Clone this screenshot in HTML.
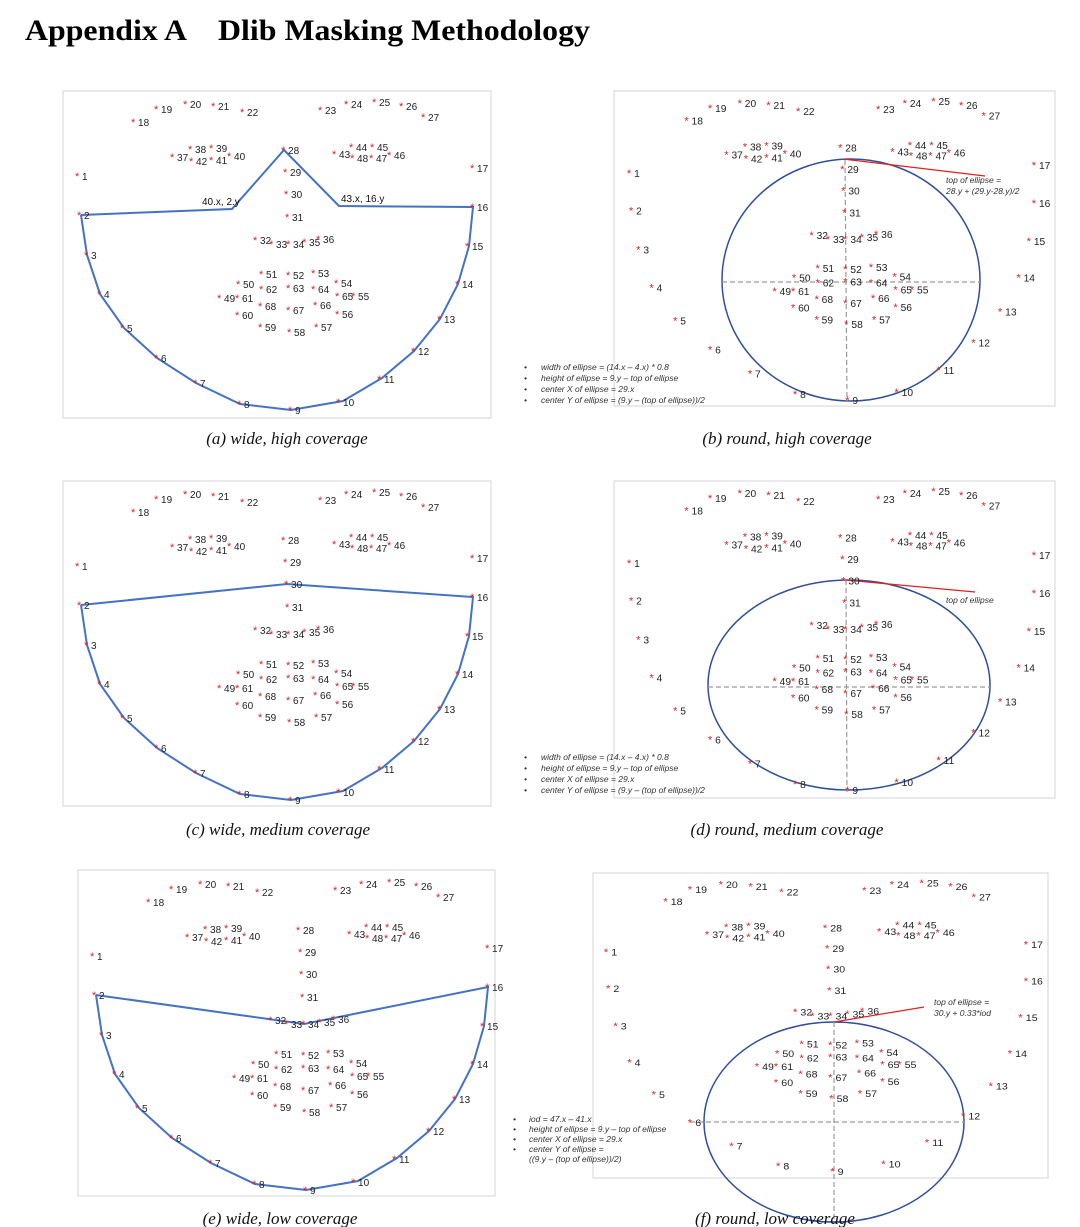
<!DOCTYPE html>
<html><head><meta charset="utf-8"><style>
body{margin:0;background:#fff;}
svg{display:block;}
.p text{font-family:"Liberation Sans",sans-serif;font-size:10px;fill:#222;}
.p tspan{fill:#e02020;font-size:11px;}
.cap{font-family:"Liberation Serif",serif;font-style:italic;font-size:17px;fill:#111;text-anchor:middle;}
.note{font-family:"Liberation Sans",sans-serif;font-style:italic;font-size:8.5px;fill:#333;}
.ann{font-family:"Liberation Sans",sans-serif;font-size:10px;fill:#111;}
.ttl{font-family:"Liberation Serif",serif;font-weight:bold;font-size:30px;fill:#000;}
</style></head><body>
<svg width="1080" height="1227" viewBox="0 0 1080 1227" xmlns="http://www.w3.org/2000/svg">
<text class="ttl" x="25" y="40" textLength="162" lengthAdjust="spacingAndGlyphs">Appendix A</text>
<text class="ttl" x="218" y="40" textLength="372" lengthAdjust="spacingAndGlyphs">Dlib Masking Methodology</text>

<!-- frames -->
<g fill="none" stroke="#d4d4d4" stroke-width="1">
<rect x="63" y="91" width="428" height="327"/>
<rect x="614" y="91" width="441" height="315"/>
<rect x="63" y="481" width="428" height="325"/>
<rect x="614" y="481" width="441" height="317"/>
<rect x="78" y="870" width="417" height="326"/>
<rect x="593" y="873" width="455" height="305"/>
</g>

<polyline fill="none" stroke="#4472c4" stroke-width="2" points="81,215 232,209 284,150 339,206 473,207 469,246 458,284 440,319 414,351 382,378 343,401 291,410 240,404 196,383 157,358 124,328 100,294 87,255 81,215"/>
<text class="ann" x="202" y="205">40.x, 2.y</text>
<text class="ann" x="341" y="202">43.x, 16.y</text>
<polyline fill="none" stroke="#4472c4" stroke-width="2" transform="translate(0,390)" points="81,215 287,194 473,207 469,246 458,284 440,319 414,351 382,378 343,401 291,410 240,404 196,383 157,358 124,328 100,294 87,255 81,215"/>
<polyline fill="none" stroke="#4472c4" stroke-width="2" transform="translate(15,780)" points="81,215 289,244 473,207 469,246 458,284 440,319 414,351 382,378 343,401 291,410 240,404 196,383 157,358 124,328 100,294 87,255 81,215"/>

<ellipse cx="851" cy="280" rx="129" ry="121" fill="none" stroke="#2f4f9a" stroke-width="1.5"/>
<g stroke="#999" stroke-dasharray="5,3" stroke-width="1.2"><line x1="722" y1="282" x2="980" y2="282"/><line x1="845" y1="160" x2="847" y2="402"/></g>
<line x1="843" y1="159" x2="985" y2="176" stroke="#e02020" stroke-width="1.2"/>
<text class="note" x="946" y="183">top of ellipse =</text>
<text class="note" x="946" y="194">28.y + (29.y-28.y)/2</text>
<g class="note"><text x="524" y="370">•</text><text x="541" y="370">width of ellipse = (14.x – 4.x) * 0.8</text>
<text x="524" y="381">•</text><text x="541" y="381">height of ellipse = 9.y – top of ellipse</text>
<text x="524" y="392">•</text><text x="541" y="392">center X of ellipse = 29.x</text>
<text x="524" y="403">•</text><text x="541" y="403">center Y of ellipse = (9.y – (top of ellipse))/2</text></g>

<ellipse cx="849" cy="685" rx="141" ry="105" fill="none" stroke="#2f4f9a" stroke-width="1.5"/>
<g stroke="#999" stroke-dasharray="5,3" stroke-width="1.2"><line x1="708" y1="687" x2="990" y2="687"/><line x1="846" y1="580" x2="847" y2="792"/></g>
<line x1="846" y1="580" x2="975" y2="592" stroke="#e02020" stroke-width="1.2"/>
<text class="note" x="946" y="603">top of ellipse</text>
<g class="note"><text x="524" y="760">•</text><text x="541" y="760">width of ellipse = (14.x – 4.x) * 0.8</text>
<text x="524" y="771">•</text><text x="541" y="771">height of ellipse = 9.y – top of ellipse</text>
<text x="524" y="782">•</text><text x="541" y="782">center X of ellipse = 29.x</text>
<text x="524" y="793">•</text><text x="541" y="793">center Y of ellipse = (9.y – (top of ellipse))/2</text></g>

<ellipse cx="834" cy="1122" rx="130" ry="100" fill="none" stroke="#2f4f9a" stroke-width="1.5"/>
<g stroke="#999" stroke-dasharray="5,3" stroke-width="1.2"><line x1="690" y1="1122" x2="965" y2="1122"/><line x1="834" y1="1022" x2="834" y2="1222"/></g>
<line x1="834" y1="1022" x2="924" y2="1007" stroke="#e02020" stroke-width="1.2"/>
<text class="note" x="934" y="1005">top of ellipse =</text>
<text class="note" x="934" y="1016">30.y + 0.33*iod</text>
<g class="note"><text x="513" y="1122">•</text><text x="529" y="1122">iod = 47.x – 41.x</text>
<text x="513" y="1132">•</text><text x="529" y="1132">height of ellipse = 9.y – top of ellipse</text>
<text x="513" y="1142">•</text><text x="529" y="1142">center X of ellipse = 29.x</text>
<text x="513" y="1152">•</text><text x="529" y="1152">center Y of ellipse =</text>
<text x="529" y="1162">((9.y – (top of ellipse))/2)</text></g>

<g class="p" transform="translate(-3,4)">
<text x="78" y="176"><tspan>*</tspan> 1</text><text x="80" y="215"><tspan>*</tspan> 2</text><text x="87" y="255"><tspan>*</tspan> 3</text><text x="100" y="294"><tspan>*</tspan> 4</text><text x="123" y="328"><tspan>*</tspan> 5</text><text x="157" y="358"><tspan>*</tspan> 6</text><text x="196" y="383"><tspan>*</tspan> 7</text><text x="240" y="404"><tspan>*</tspan> 8</text><text x="291" y="410"><tspan>*</tspan> 9</text><text x="339" y="402"><tspan>*</tspan> 10</text><text x="380" y="379"><tspan>*</tspan> 11</text><text x="414" y="351"><tspan>*</tspan> 12</text><text x="440" y="319"><tspan>*</tspan> 13</text><text x="458" y="284"><tspan>*</tspan> 14</text><text x="468" y="246"><tspan>*</tspan> 15</text><text x="473" y="207"><tspan>*</tspan> 16</text><text x="473" y="168"><tspan>*</tspan> 17</text>
<text x="134" y="122"><tspan>*</tspan> 18</text><text x="157" y="109"><tspan>*</tspan> 19</text><text x="186" y="104"><tspan>*</tspan> 20</text><text x="214" y="106"><tspan>*</tspan> 21</text><text x="243" y="112"><tspan>*</tspan> 22</text><text x="321" y="110"><tspan>*</tspan> 23</text><text x="347" y="104"><tspan>*</tspan> 24</text><text x="375" y="102"><tspan>*</tspan> 25</text><text x="402" y="106"><tspan>*</tspan> 26</text><text x="424" y="117"><tspan>*</tspan> 27</text>
<text x="284" y="150"><tspan>*</tspan> 28</text><text x="286" y="172"><tspan>*</tspan> 29</text><text x="287" y="194"><tspan>*</tspan> 30</text><text x="288" y="217"><tspan>*</tspan> 31</text><text x="256" y="240"><tspan>*</tspan> 32</text><text x="272" y="244"><tspan>*</tspan> 33</text><text x="289" y="244"><tspan>*</tspan> 34</text><text x="305" y="242"><tspan>*</tspan> 35</text><text x="319" y="239"><tspan>*</tspan> 36</text>
<text x="173" y="157"><tspan>*</tspan> 37</text><text x="191" y="149"><tspan>*</tspan> 38</text><text x="212" y="148"><tspan>*</tspan> 39</text><text x="230" y="156"><tspan>*</tspan> 40</text><text x="212" y="160"><tspan>*</tspan> 41</text><text x="192" y="161"><tspan>*</tspan> 42</text><text x="335" y="154"><tspan>*</tspan> 43</text><text x="352" y="147"><tspan>*</tspan> 44</text><text x="373" y="147"><tspan>*</tspan> 45</text><text x="390" y="155"><tspan>*</tspan> 46</text><text x="372" y="158"><tspan>*</tspan> 47</text><text x="353" y="158"><tspan>*</tspan> 48</text>
<text x="220" y="298"><tspan>*</tspan> 49</text><text x="239" y="284"><tspan>*</tspan> 50</text><text x="262" y="274"><tspan>*</tspan> 51</text><text x="289" y="275"><tspan>*</tspan> 52</text><text x="314" y="273"><tspan>*</tspan> 53</text><text x="337" y="283"><tspan>*</tspan> 54</text><text x="354" y="296"><tspan>*</tspan> 55</text><text x="338" y="314"><tspan>*</tspan> 56</text><text x="317" y="327"><tspan>*</tspan> 57</text><text x="290" y="332"><tspan>*</tspan> 58</text><text x="261" y="327"><tspan>*</tspan> 59</text><text x="238" y="315"><tspan>*</tspan> 60</text><text x="238" y="298"><tspan>*</tspan> 61</text><text x="262" y="289"><tspan>*</tspan> 62</text><text x="289" y="288"><tspan>*</tspan> 63</text><text x="314" y="289"><tspan>*</tspan> 64</text><text x="338" y="296"><tspan>*</tspan> 65</text><text x="316" y="305"><tspan>*</tspan> 66</text><text x="289" y="310"><tspan>*</tspan> 67</text><text x="261" y="306"><tspan>*</tspan> 68</text>
</g>

<g class="p" transform="matrix(1.025,0,0,0.97,550,2.3) translate(-3,4)">
<text x="78" y="176"><tspan>*</tspan> 1</text><text x="80" y="215"><tspan>*</tspan> 2</text><text x="87" y="255"><tspan>*</tspan> 3</text><text x="100" y="294"><tspan>*</tspan> 4</text><text x="123" y="328"><tspan>*</tspan> 5</text><text x="157" y="358"><tspan>*</tspan> 6</text><text x="196" y="383"><tspan>*</tspan> 7</text><text x="240" y="404"><tspan>*</tspan> 8</text><text x="291" y="410"><tspan>*</tspan> 9</text><text x="339" y="402"><tspan>*</tspan> 10</text><text x="380" y="379"><tspan>*</tspan> 11</text><text x="414" y="351"><tspan>*</tspan> 12</text><text x="440" y="319"><tspan>*</tspan> 13</text><text x="458" y="284"><tspan>*</tspan> 14</text><text x="468" y="246"><tspan>*</tspan> 15</text><text x="473" y="207"><tspan>*</tspan> 16</text><text x="473" y="168"><tspan>*</tspan> 17</text>
<text x="134" y="122"><tspan>*</tspan> 18</text><text x="157" y="109"><tspan>*</tspan> 19</text><text x="186" y="104"><tspan>*</tspan> 20</text><text x="214" y="106"><tspan>*</tspan> 21</text><text x="243" y="112"><tspan>*</tspan> 22</text><text x="321" y="110"><tspan>*</tspan> 23</text><text x="347" y="104"><tspan>*</tspan> 24</text><text x="375" y="102"><tspan>*</tspan> 25</text><text x="402" y="106"><tspan>*</tspan> 26</text><text x="424" y="117"><tspan>*</tspan> 27</text>
<text x="284" y="150"><tspan>*</tspan> 28</text><text x="286" y="172"><tspan>*</tspan> 29</text><text x="287" y="194"><tspan>*</tspan> 30</text><text x="288" y="217"><tspan>*</tspan> 31</text><text x="256" y="240"><tspan>*</tspan> 32</text><text x="272" y="244"><tspan>*</tspan> 33</text><text x="289" y="244"><tspan>*</tspan> 34</text><text x="305" y="242"><tspan>*</tspan> 35</text><text x="319" y="239"><tspan>*</tspan> 36</text>
<text x="173" y="157"><tspan>*</tspan> 37</text><text x="191" y="149"><tspan>*</tspan> 38</text><text x="212" y="148"><tspan>*</tspan> 39</text><text x="230" y="156"><tspan>*</tspan> 40</text><text x="212" y="160"><tspan>*</tspan> 41</text><text x="192" y="161"><tspan>*</tspan> 42</text><text x="335" y="154"><tspan>*</tspan> 43</text><text x="352" y="147"><tspan>*</tspan> 44</text><text x="373" y="147"><tspan>*</tspan> 45</text><text x="390" y="155"><tspan>*</tspan> 46</text><text x="372" y="158"><tspan>*</tspan> 47</text><text x="353" y="158"><tspan>*</tspan> 48</text>
<text x="220" y="298"><tspan>*</tspan> 49</text><text x="239" y="284"><tspan>*</tspan> 50</text><text x="262" y="274"><tspan>*</tspan> 51</text><text x="289" y="275"><tspan>*</tspan> 52</text><text x="314" y="273"><tspan>*</tspan> 53</text><text x="337" y="283"><tspan>*</tspan> 54</text><text x="354" y="296"><tspan>*</tspan> 55</text><text x="338" y="314"><tspan>*</tspan> 56</text><text x="317" y="327"><tspan>*</tspan> 57</text><text x="290" y="332"><tspan>*</tspan> 58</text><text x="261" y="327"><tspan>*</tspan> 59</text><text x="238" y="315"><tspan>*</tspan> 60</text><text x="238" y="298"><tspan>*</tspan> 61</text><text x="262" y="289"><tspan>*</tspan> 62</text><text x="289" y="288"><tspan>*</tspan> 63</text><text x="314" y="289"><tspan>*</tspan> 64</text><text x="338" y="296"><tspan>*</tspan> 65</text><text x="316" y="305"><tspan>*</tspan> 66</text><text x="289" y="310"><tspan>*</tspan> 67</text><text x="261" y="306"><tspan>*</tspan> 68</text>
</g>

<g class="p" transform="translate(-3,394)">
<text x="78" y="176"><tspan>*</tspan> 1</text><text x="80" y="215"><tspan>*</tspan> 2</text><text x="87" y="255"><tspan>*</tspan> 3</text><text x="100" y="294"><tspan>*</tspan> 4</text><text x="123" y="328"><tspan>*</tspan> 5</text><text x="157" y="358"><tspan>*</tspan> 6</text><text x="196" y="383"><tspan>*</tspan> 7</text><text x="240" y="404"><tspan>*</tspan> 8</text><text x="291" y="410"><tspan>*</tspan> 9</text><text x="339" y="402"><tspan>*</tspan> 10</text><text x="380" y="379"><tspan>*</tspan> 11</text><text x="414" y="351"><tspan>*</tspan> 12</text><text x="440" y="319"><tspan>*</tspan> 13</text><text x="458" y="284"><tspan>*</tspan> 14</text><text x="468" y="246"><tspan>*</tspan> 15</text><text x="473" y="207"><tspan>*</tspan> 16</text><text x="473" y="168"><tspan>*</tspan> 17</text>
<text x="134" y="122"><tspan>*</tspan> 18</text><text x="157" y="109"><tspan>*</tspan> 19</text><text x="186" y="104"><tspan>*</tspan> 20</text><text x="214" y="106"><tspan>*</tspan> 21</text><text x="243" y="112"><tspan>*</tspan> 22</text><text x="321" y="110"><tspan>*</tspan> 23</text><text x="347" y="104"><tspan>*</tspan> 24</text><text x="375" y="102"><tspan>*</tspan> 25</text><text x="402" y="106"><tspan>*</tspan> 26</text><text x="424" y="117"><tspan>*</tspan> 27</text>
<text x="284" y="150"><tspan>*</tspan> 28</text><text x="286" y="172"><tspan>*</tspan> 29</text><text x="287" y="194"><tspan>*</tspan> 30</text><text x="288" y="217"><tspan>*</tspan> 31</text><text x="256" y="240"><tspan>*</tspan> 32</text><text x="272" y="244"><tspan>*</tspan> 33</text><text x="289" y="244"><tspan>*</tspan> 34</text><text x="305" y="242"><tspan>*</tspan> 35</text><text x="319" y="239"><tspan>*</tspan> 36</text>
<text x="173" y="157"><tspan>*</tspan> 37</text><text x="191" y="149"><tspan>*</tspan> 38</text><text x="212" y="148"><tspan>*</tspan> 39</text><text x="230" y="156"><tspan>*</tspan> 40</text><text x="212" y="160"><tspan>*</tspan> 41</text><text x="192" y="161"><tspan>*</tspan> 42</text><text x="335" y="154"><tspan>*</tspan> 43</text><text x="352" y="147"><tspan>*</tspan> 44</text><text x="373" y="147"><tspan>*</tspan> 45</text><text x="390" y="155"><tspan>*</tspan> 46</text><text x="372" y="158"><tspan>*</tspan> 47</text><text x="353" y="158"><tspan>*</tspan> 48</text>
<text x="220" y="298"><tspan>*</tspan> 49</text><text x="239" y="284"><tspan>*</tspan> 50</text><text x="262" y="274"><tspan>*</tspan> 51</text><text x="289" y="275"><tspan>*</tspan> 52</text><text x="314" y="273"><tspan>*</tspan> 53</text><text x="337" y="283"><tspan>*</tspan> 54</text><text x="354" y="296"><tspan>*</tspan> 55</text><text x="338" y="314"><tspan>*</tspan> 56</text><text x="317" y="327"><tspan>*</tspan> 57</text><text x="290" y="332"><tspan>*</tspan> 58</text><text x="261" y="327"><tspan>*</tspan> 59</text><text x="238" y="315"><tspan>*</tspan> 60</text><text x="238" y="298"><tspan>*</tspan> 61</text><text x="262" y="289"><tspan>*</tspan> 62</text><text x="289" y="288"><tspan>*</tspan> 63</text><text x="314" y="289"><tspan>*</tspan> 64</text><text x="338" y="296"><tspan>*</tspan> 65</text><text x="316" y="305"><tspan>*</tspan> 66</text><text x="289" y="310"><tspan>*</tspan> 67</text><text x="261" y="306"><tspan>*</tspan> 68</text>
</g>

<g class="p" transform="matrix(1.025,0,0,0.97,550,392.3) translate(-3,4)">
<text x="78" y="176"><tspan>*</tspan> 1</text><text x="80" y="215"><tspan>*</tspan> 2</text><text x="87" y="255"><tspan>*</tspan> 3</text><text x="100" y="294"><tspan>*</tspan> 4</text><text x="123" y="328"><tspan>*</tspan> 5</text><text x="157" y="358"><tspan>*</tspan> 6</text><text x="196" y="383"><tspan>*</tspan> 7</text><text x="240" y="404"><tspan>*</tspan> 8</text><text x="291" y="410"><tspan>*</tspan> 9</text><text x="339" y="402"><tspan>*</tspan> 10</text><text x="380" y="379"><tspan>*</tspan> 11</text><text x="414" y="351"><tspan>*</tspan> 12</text><text x="440" y="319"><tspan>*</tspan> 13</text><text x="458" y="284"><tspan>*</tspan> 14</text><text x="468" y="246"><tspan>*</tspan> 15</text><text x="473" y="207"><tspan>*</tspan> 16</text><text x="473" y="168"><tspan>*</tspan> 17</text>
<text x="134" y="122"><tspan>*</tspan> 18</text><text x="157" y="109"><tspan>*</tspan> 19</text><text x="186" y="104"><tspan>*</tspan> 20</text><text x="214" y="106"><tspan>*</tspan> 21</text><text x="243" y="112"><tspan>*</tspan> 22</text><text x="321" y="110"><tspan>*</tspan> 23</text><text x="347" y="104"><tspan>*</tspan> 24</text><text x="375" y="102"><tspan>*</tspan> 25</text><text x="402" y="106"><tspan>*</tspan> 26</text><text x="424" y="117"><tspan>*</tspan> 27</text>
<text x="284" y="150"><tspan>*</tspan> 28</text><text x="286" y="172"><tspan>*</tspan> 29</text><text x="287" y="194"><tspan>*</tspan> 30</text><text x="288" y="217"><tspan>*</tspan> 31</text><text x="256" y="240"><tspan>*</tspan> 32</text><text x="272" y="244"><tspan>*</tspan> 33</text><text x="289" y="244"><tspan>*</tspan> 34</text><text x="305" y="242"><tspan>*</tspan> 35</text><text x="319" y="239"><tspan>*</tspan> 36</text>
<text x="173" y="157"><tspan>*</tspan> 37</text><text x="191" y="149"><tspan>*</tspan> 38</text><text x="212" y="148"><tspan>*</tspan> 39</text><text x="230" y="156"><tspan>*</tspan> 40</text><text x="212" y="160"><tspan>*</tspan> 41</text><text x="192" y="161"><tspan>*</tspan> 42</text><text x="335" y="154"><tspan>*</tspan> 43</text><text x="352" y="147"><tspan>*</tspan> 44</text><text x="373" y="147"><tspan>*</tspan> 45</text><text x="390" y="155"><tspan>*</tspan> 46</text><text x="372" y="158"><tspan>*</tspan> 47</text><text x="353" y="158"><tspan>*</tspan> 48</text>
<text x="220" y="298"><tspan>*</tspan> 49</text><text x="239" y="284"><tspan>*</tspan> 50</text><text x="262" y="274"><tspan>*</tspan> 51</text><text x="289" y="275"><tspan>*</tspan> 52</text><text x="314" y="273"><tspan>*</tspan> 53</text><text x="337" y="283"><tspan>*</tspan> 54</text><text x="354" y="296"><tspan>*</tspan> 55</text><text x="338" y="314"><tspan>*</tspan> 56</text><text x="317" y="327"><tspan>*</tspan> 57</text><text x="290" y="332"><tspan>*</tspan> 58</text><text x="261" y="327"><tspan>*</tspan> 59</text><text x="238" y="315"><tspan>*</tspan> 60</text><text x="238" y="298"><tspan>*</tspan> 61</text><text x="262" y="289"><tspan>*</tspan> 62</text><text x="289" y="288"><tspan>*</tspan> 63</text><text x="314" y="289"><tspan>*</tspan> 64</text><text x="338" y="296"><tspan>*</tspan> 65</text><text x="316" y="305"><tspan>*</tspan> 66</text><text x="289" y="310"><tspan>*</tspan> 67</text><text x="261" y="306"><tspan>*</tspan> 68</text>
</g>

<g class="p" transform="translate(12,784)">
<text x="78" y="176"><tspan>*</tspan> 1</text><text x="80" y="215"><tspan>*</tspan> 2</text><text x="87" y="255"><tspan>*</tspan> 3</text><text x="100" y="294"><tspan>*</tspan> 4</text><text x="123" y="328"><tspan>*</tspan> 5</text><text x="157" y="358"><tspan>*</tspan> 6</text><text x="196" y="383"><tspan>*</tspan> 7</text><text x="240" y="404"><tspan>*</tspan> 8</text><text x="291" y="410"><tspan>*</tspan> 9</text><text x="339" y="402"><tspan>*</tspan> 10</text><text x="380" y="379"><tspan>*</tspan> 11</text><text x="414" y="351"><tspan>*</tspan> 12</text><text x="440" y="319"><tspan>*</tspan> 13</text><text x="458" y="284"><tspan>*</tspan> 14</text><text x="468" y="246"><tspan>*</tspan> 15</text><text x="473" y="207"><tspan>*</tspan> 16</text><text x="473" y="168"><tspan>*</tspan> 17</text>
<text x="134" y="122"><tspan>*</tspan> 18</text><text x="157" y="109"><tspan>*</tspan> 19</text><text x="186" y="104"><tspan>*</tspan> 20</text><text x="214" y="106"><tspan>*</tspan> 21</text><text x="243" y="112"><tspan>*</tspan> 22</text><text x="321" y="110"><tspan>*</tspan> 23</text><text x="347" y="104"><tspan>*</tspan> 24</text><text x="375" y="102"><tspan>*</tspan> 25</text><text x="402" y="106"><tspan>*</tspan> 26</text><text x="424" y="117"><tspan>*</tspan> 27</text>
<text x="284" y="150"><tspan>*</tspan> 28</text><text x="286" y="172"><tspan>*</tspan> 29</text><text x="287" y="194"><tspan>*</tspan> 30</text><text x="288" y="217"><tspan>*</tspan> 31</text><text x="256" y="240"><tspan>*</tspan> 32</text><text x="272" y="244"><tspan>*</tspan> 33</text><text x="289" y="244"><tspan>*</tspan> 34</text><text x="305" y="242"><tspan>*</tspan> 35</text><text x="319" y="239"><tspan>*</tspan> 36</text>
<text x="173" y="157"><tspan>*</tspan> 37</text><text x="191" y="149"><tspan>*</tspan> 38</text><text x="212" y="148"><tspan>*</tspan> 39</text><text x="230" y="156"><tspan>*</tspan> 40</text><text x="212" y="160"><tspan>*</tspan> 41</text><text x="192" y="161"><tspan>*</tspan> 42</text><text x="335" y="154"><tspan>*</tspan> 43</text><text x="352" y="147"><tspan>*</tspan> 44</text><text x="373" y="147"><tspan>*</tspan> 45</text><text x="390" y="155"><tspan>*</tspan> 46</text><text x="372" y="158"><tspan>*</tspan> 47</text><text x="353" y="158"><tspan>*</tspan> 48</text>
<text x="220" y="298"><tspan>*</tspan> 49</text><text x="239" y="284"><tspan>*</tspan> 50</text><text x="262" y="274"><tspan>*</tspan> 51</text><text x="289" y="275"><tspan>*</tspan> 52</text><text x="314" y="273"><tspan>*</tspan> 53</text><text x="337" y="283"><tspan>*</tspan> 54</text><text x="354" y="296"><tspan>*</tspan> 55</text><text x="338" y="314"><tspan>*</tspan> 56</text><text x="317" y="327"><tspan>*</tspan> 57</text><text x="290" y="332"><tspan>*</tspan> 58</text><text x="261" y="327"><tspan>*</tspan> 59</text><text x="238" y="315"><tspan>*</tspan> 60</text><text x="238" y="298"><tspan>*</tspan> 61</text><text x="262" y="289"><tspan>*</tspan> 62</text><text x="289" y="288"><tspan>*</tspan> 63</text><text x="314" y="289"><tspan>*</tspan> 64</text><text x="338" y="296"><tspan>*</tspan> 65</text><text x="316" y="305"><tspan>*</tspan> 66</text><text x="289" y="310"><tspan>*</tspan> 67</text><text x="261" y="306"><tspan>*</tspan> 68</text>
</g>

<g class="p" transform="matrix(1.063,0,0,0.937,524,787) translate(-3,4)">
<text x="78" y="176"><tspan>*</tspan> 1</text><text x="80" y="215"><tspan>*</tspan> 2</text><text x="87" y="255"><tspan>*</tspan> 3</text><text x="100" y="294"><tspan>*</tspan> 4</text><text x="123" y="328"><tspan>*</tspan> 5</text><text x="157" y="358"><tspan>*</tspan> 6</text><text x="196" y="383"><tspan>*</tspan> 7</text><text x="240" y="404"><tspan>*</tspan> 8</text><text x="291" y="410"><tspan>*</tspan> 9</text><text x="339" y="402"><tspan>*</tspan> 10</text><text x="380" y="379"><tspan>*</tspan> 11</text><text x="414" y="351"><tspan>*</tspan> 12</text><text x="440" y="319"><tspan>*</tspan> 13</text><text x="458" y="284"><tspan>*</tspan> 14</text><text x="468" y="246"><tspan>*</tspan> 15</text><text x="473" y="207"><tspan>*</tspan> 16</text><text x="473" y="168"><tspan>*</tspan> 17</text>
<text x="134" y="122"><tspan>*</tspan> 18</text><text x="157" y="109"><tspan>*</tspan> 19</text><text x="186" y="104"><tspan>*</tspan> 20</text><text x="214" y="106"><tspan>*</tspan> 21</text><text x="243" y="112"><tspan>*</tspan> 22</text><text x="321" y="110"><tspan>*</tspan> 23</text><text x="347" y="104"><tspan>*</tspan> 24</text><text x="375" y="102"><tspan>*</tspan> 25</text><text x="402" y="106"><tspan>*</tspan> 26</text><text x="424" y="117"><tspan>*</tspan> 27</text>
<text x="284" y="150"><tspan>*</tspan> 28</text><text x="286" y="172"><tspan>*</tspan> 29</text><text x="287" y="194"><tspan>*</tspan> 30</text><text x="288" y="217"><tspan>*</tspan> 31</text><text x="256" y="240"><tspan>*</tspan> 32</text><text x="272" y="244"><tspan>*</tspan> 33</text><text x="289" y="244"><tspan>*</tspan> 34</text><text x="305" y="242"><tspan>*</tspan> 35</text><text x="319" y="239"><tspan>*</tspan> 36</text>
<text x="173" y="157"><tspan>*</tspan> 37</text><text x="191" y="149"><tspan>*</tspan> 38</text><text x="212" y="148"><tspan>*</tspan> 39</text><text x="230" y="156"><tspan>*</tspan> 40</text><text x="212" y="160"><tspan>*</tspan> 41</text><text x="192" y="161"><tspan>*</tspan> 42</text><text x="335" y="154"><tspan>*</tspan> 43</text><text x="352" y="147"><tspan>*</tspan> 44</text><text x="373" y="147"><tspan>*</tspan> 45</text><text x="390" y="155"><tspan>*</tspan> 46</text><text x="372" y="158"><tspan>*</tspan> 47</text><text x="353" y="158"><tspan>*</tspan> 48</text>
<text x="220" y="298"><tspan>*</tspan> 49</text><text x="239" y="284"><tspan>*</tspan> 50</text><text x="262" y="274"><tspan>*</tspan> 51</text><text x="289" y="275"><tspan>*</tspan> 52</text><text x="314" y="273"><tspan>*</tspan> 53</text><text x="337" y="283"><tspan>*</tspan> 54</text><text x="354" y="296"><tspan>*</tspan> 55</text><text x="338" y="314"><tspan>*</tspan> 56</text><text x="317" y="327"><tspan>*</tspan> 57</text><text x="290" y="332"><tspan>*</tspan> 58</text><text x="261" y="327"><tspan>*</tspan> 59</text><text x="238" y="315"><tspan>*</tspan> 60</text><text x="238" y="298"><tspan>*</tspan> 61</text><text x="262" y="289"><tspan>*</tspan> 62</text><text x="289" y="288"><tspan>*</tspan> 63</text><text x="314" y="289"><tspan>*</tspan> 64</text><text x="338" y="296"><tspan>*</tspan> 65</text><text x="316" y="305"><tspan>*</tspan> 66</text><text x="289" y="310"><tspan>*</tspan> 67</text><text x="261" y="306"><tspan>*</tspan> 68</text>
</g>

<text class="cap" x="287" y="444">(a) wide, high coverage</text>
<text class="cap" x="787" y="444">(b) round, high coverage</text>
<text class="cap" x="278" y="835">(c) wide, medium coverage</text>
<text class="cap" x="787" y="835">(d) round, medium coverage</text>
<text class="cap" x="280" y="1224">(e) wide, low coverage</text>
<text class="cap" x="775" y="1224">(f) round, low coverage</text>
</svg>
</body></html>
